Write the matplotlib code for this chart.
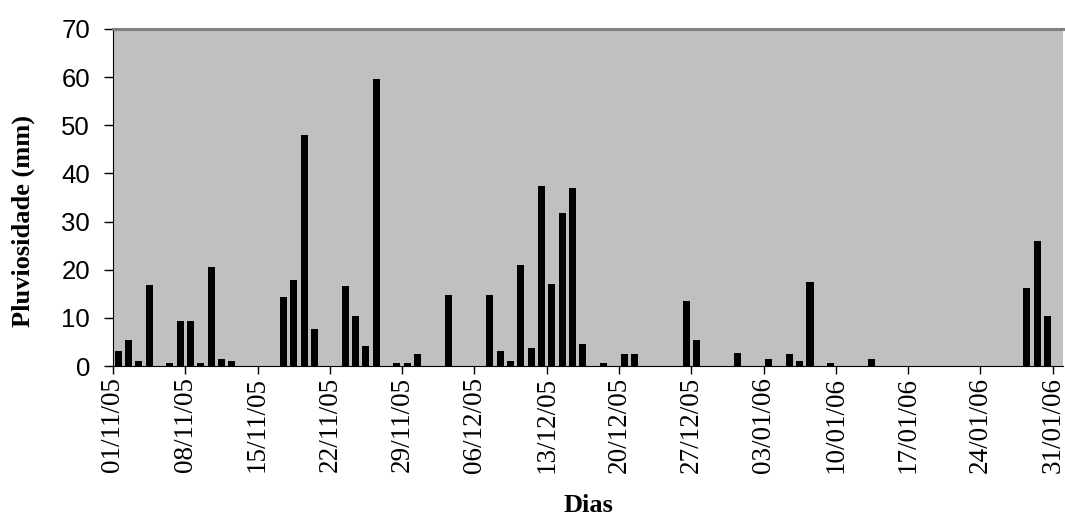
import matplotlib
matplotlib.use('Agg')
import matplotlib.pyplot as plt
import numpy as np

# Daily rainfall (mm), 01/11/05 .. 31/01/06
rain_nov = [3.2, 5.4, 1.0, 16.9, 0, 0.55, 9.4, 9.4, 0.55, 20.5,
            1.4, 1.0, 0, 0, 0, 0, 14.3, 17.9, 48.0, 7.6,
            0, 0, 16.6, 10.4, 4.1, 59.6, 0, 0.55, 0.55, 2.4]
rain_dec = [0, 0, 14.7, 0, 0, 0, 14.7, 3.2, 1.0, 20.9,
            3.7, 37.4, 17.0, 31.7, 36.9, 4.6, 0, 0.55, 0, 2.4,
            2.4, 0, 0, 0, 0, 13.4, 5.4, 0, 0, 0, 2.8]
rain_jan = [0, 0, 1.4, 0, 2.4, 1.0, 17.4, 0, 0.55, 0,
            0, 0, 1.4, 0, 0, 0, 0, 0, 0, 0,
            0, 0, 0, 0, 0, 0, 0, 16.1, 25.9, 10.4, 0]
rainfall = rain_nov + rain_dec + rain_jan

tick_labels = ['01/11/05', '08/11/05', '15/11/05', '22/11/05', '29/11/05',
               '06/12/05', '13/12/05', '20/12/05', '27/12/05', '03/01/06',
               '10/01/06', '17/01/06', '24/01/06', '31/01/06']
tick_days = [0, 7, 14, 21, 28, 35, 42, 49, 56, 63, 70, 77, 84, 91]

fig = plt.figure(figsize=(10.65, 5.18), dpi=100)
ax = fig.add_axes([113 / 1065, 152 / 518, 950 / 1065, 337 / 518])
ax.set_facecolor('#C0C0C0')

days = np.arange(len(rainfall))
ax.bar(days + 0.5, rainfall, width=0.68, color='black', zorder=3)

ax.set_xlim(0, len(rainfall))
ax.set_ylim(0, 70)
ax.set_yticks(range(0, 71, 10))
ax.set_xticks(tick_days)
ax.set_xticklabels(tick_labels, rotation=90, family='Liberation Serif',
                   fontsize=19.5)
for lab in ax.get_yticklabels():
    lab.set_family('Liberation Sans')
    lab.set_fontsize(18.5)

ax.tick_params(axis='y', direction='out', length=6.5, width=1, pad=10)
ax.tick_params(axis='x', direction='out', length=5.8, width=1, pad=2)

ax.spines['top'].set_color('#808080')
ax.spines['top'].set_linewidth(2.2)
ax.spines['right'].set_visible(False)
ax.spines['left'].set_color('black')
ax.spines['bottom'].set_color('black')

ax.set_ylabel('Pluviosidade (mm)', family='Liberation Serif',
              fontweight='bold', fontsize=19)
ax.yaxis.set_label_coords(-0.082, 0.43)
ax.set_xlabel('Dias', family='Liberation Serif', fontweight='bold',
              fontsize=19)
ax.xaxis.set_label_coords(0.5, -0.38)

fig.savefig('out.png', dpi=100)
